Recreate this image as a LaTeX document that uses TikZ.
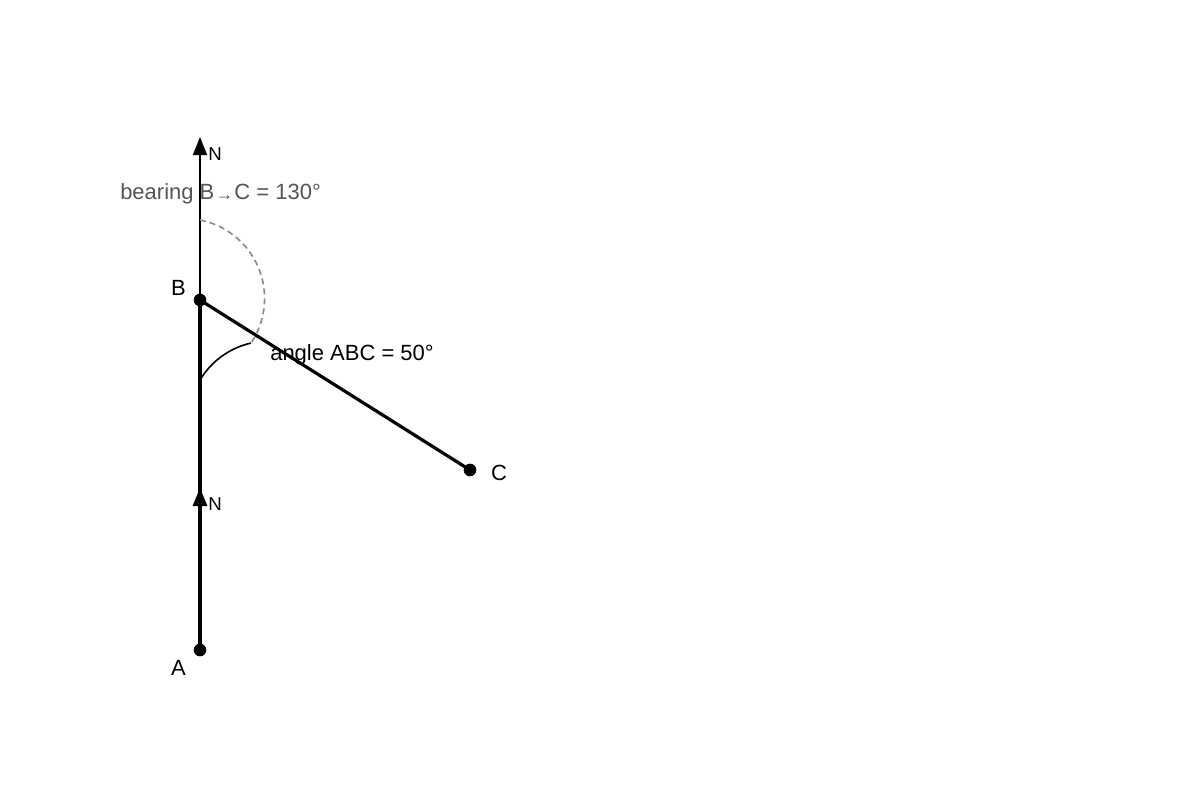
\documentclass[tikz,border=0pt]{standalone}
\usepackage{fontspec}
\setmainfont{Liberation Sans}
\usetikzlibrary{arrows.meta}
\definecolor{bearinggray}{HTML}{555555}
\definecolor{dashgray}{HTML}{888888}
\tikzset{
  dot/.style={circle,fill=black,inner sep=0pt,minimum size=9.5pt},
  thickline/.style={line width=2.4pt},
  thinline/.style={line width=1.2pt},
  northtip/.style={-{Triangle[length=13.5pt,width=10.5pt]}},
  lbl/.style={inner sep=0pt,font=\fontsize{16.5}{19}\selectfont},
  nlbl/.style={inner sep=0pt,anchor=base west,font=\fontsize{14}{16}\selectfont}
}
\begin{document}
\begin{tikzpicture}[x=0.75pt,y=-0.75pt]
\useasboundingbox (0,0) rectangle (1200,800);
% points
\coordinate (Apt) at (200,650);
\coordinate (Bpt) at (200,300);
\coordinate (Cpt) at (470,470);
\coordinate (Ntop) at (200,137);
\coordinate (Nmidbase) at (200,510);
\coordinate (Nmid) at (200,488);
\coordinate (arcstart) at (200,220);
\coordinate (arcend) at (251,343);
\coordinate (angstart) at (200,380);
% lines
\draw[thinline,northtip] (Bpt) -- (Ntop);
\draw[thickline] (Apt) -- (Bpt);
\draw[thickline,northtip] (Nmidbase) -- (Nmid);
\draw[thickline] (Bpt) -- (Cpt);
% arcs
\draw[dashgray,line width=1.2pt,dash pattern=on 4.5pt off 3pt]
  (arcstart) arc[start angle=-78.9,end angle=33.8,radius=80];
\draw[line width=1.2pt]
  (angstart) arc[start angle=-149.1,end angle=-102.7,radius=80];
% dots
\node[dot] (A) at (Apt) {};
\node[dot] (B) at (Bpt) {};
\node[dot] (C) at (Cpt) {};
% labels
\node[lbl,anchor=base] (Alab) at (178.5,675) {A};
\node[lbl,anchor=base] (Blab) at (178.5,295) {B};
\node[lbl,anchor=base] (Clab) at (499,480) {C};
\node[nlbl] (Ntoplab) at (208,160) {N};
\node[nlbl] (Nmidlab) at (208,510) {N};
\node[lbl,anchor=base west] (anglab) at (270,360) {angle ABC = 50°};
\node[lbl,anchor=base west,text=bearinggray] (bearlab) at (120,199)
  {bearing B\kern1pt\raisebox{-1pt}{\fontsize{13}{13}\selectfont →}\kern1pt C = 130°};
\end{tikzpicture}
\end{document}
